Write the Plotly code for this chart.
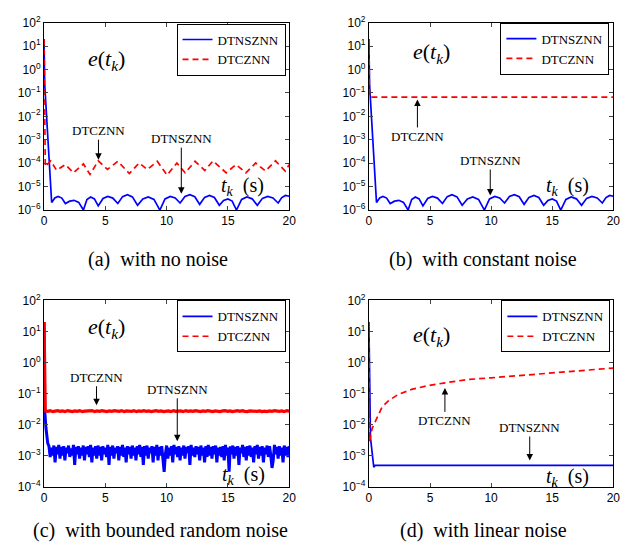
import numpy as np
import plotly.graph_objects as go

# ---------------- data ----------------
# (a) & (b): DTNSZNN residual (same in both panels)
blue_ab_t = [0, 0.05, 0.62, 0.88, 1.15, 1.45, 1.74, 2.1, 2.45, 2.83, 3.21, 3.5, 3.8, 4.11,
             4.42, 4.81, 5.2, 5.61, 6.02, 6.41, 6.8, 7.21, 7.63, 8.06, 8.5, 8.97, 9.45,
             9.87, 10.3, 10.7, 11.1, 11.5, 11.9, 12.3, 12.7, 13.1, 13.5, 13.9, 14.3,
             14.65, 15.0, 15.35, 15.7, 16.12, 16.55, 16.98, 17.4, 17.82, 18.25, 18.68,
             19.1, 19.4, 19.7, 20.0]
blue_ab_micro = [2e7, 2.5e5, 2.1, 3.3, 3.8, 3.24, 1.9, 2.4, 2.6, 2.13, 1.0, 2.84, 3.6, 2.98,
                 1.5, 3.13, 3.8, 3.24, 1.9, 3.74, 4.5, 3.65, 1.6, 3.0, 3.6, 2.84, 1.0,
                 2.98, 3.8, 3.27, 2.0, 3.77, 4.5, 3.69, 1.75, 3.48, 4.2, 3.44, 1.6,
                 2.59, 3.0, 2.41, 1.0, 2.84, 3.6, 3.01, 1.6, 3.16, 3.8, 3.27,
                 2.0, 3.4, 4.2, 3.9]

# (a): DTCZNN residual, no noise
red_a_t = [0, 0.1, 0.54, 1.02, 1.74, 2.41, 3.21, 3.75, 4.42, 5.17, 6.02, 6.96, 7.76, 8.43,
           9.24, 10.04, 10.84, 11.51, 12.32, 13.12, 13.79, 14.86, 15.66, 16.47, 17.27,
           18.07, 18.88, 19.68, 20]
red_a_e = [20, 7.1e-5, 1.26e-4, 5.0e-5, 8.7e-5, 3.9e-5, 9.3e-5, 3.3e-5, 1.26e-4, 5.4e-5,
           1.2e-4, 3.6e-5, 1.02e-4, 5.4e-5, 1.2e-4, 3.1e-5, 1.02e-4, 3.9e-5, 1.2e-4,
           4.9e-5, 1.26e-4, 3.9e-5, 8.7e-5, 3.9e-5, 1.02e-4, 4.6e-5, 1.26e-4, 4.6e-5, 8.7e-5]

# (b): DTCZNN residual, constant noise
red_b_t = [0, 0.05, 20]
red_b_e = [20, 0.066, 0.066]

# (c): bounded random noise
blue_c_head_t = [0, 0.05, 0.15, 0.3]
blue_c_head_e = [20, 0.03, 8e-3, 2.5e-3]
blue_c_band_milli = [
    2.0, 0.9, 1.8, 1.0, 2.1, 0.6, 1.9, 1.1, 2.2, 0.8,
    1.9, 1.0, 2.0, 0.7, 1.8, 1.2, 2.1, 0.9, 1.7, 1.0,
    2.2, 0.5, 1.9, 1.1, 2.0, 0.8, 1.8, 1.0, 2.1, 0.7,
    1.9, 1.1, 2.0, 0.9, 2.2, 0.6, 1.8, 1.0, 2.0, 0.8,
    2.1, 1.0, 1.9, 0.7, 2.0, 1.1, 1.8, 0.9, 2.2, 0.5,
    1.9, 1.0, 2.1, 0.8, 1.8, 1.2, 2.0, 0.7, 1.9, 1.0,
    2.2, 0.9, 1.8, 0.6, 2.0, 1.1, 1.9, 0.8, 2.1, 1.0,
    1.8, 0.7, 2.0, 1.1, 2.2, 0.9, 1.9, 0.5, 2.0, 1.0,
    2.1, 0.8, 1.8, 1.2, 2.0, 0.6, 1.9, 1.0, 2.2, 0.7,
    1.9, 1.0, 2.0, 0.9, 0.3, 1.1, 2.1, 0.8, 1.8, 1.0,
    2.0, 0.6, 2.2, 1.1, 1.9, 0.9, 2.0, 0.7, 1.8, 1.0,
    2.1, 0.8, 1.9, 1.2, 2.0, 0.5, 2.2, 1.0, 1.8, 0.9,
    2.0, 1.1, 1.9, 0.7, 2.1, 1.0, 1.8, 0.6, 2.0, 0.9,
    2.2, 1.0, 1.9, 0.8, 2.0, 1.1, 2.1, 0.6, 1.8, 1.0,
    1.9, 0.9, 2.0, 0.7, 2.2, 1.0, 1.8, 0.3, 2.0, 1.1,
    2.1, 0.8, 1.9, 1.0, 2.0, 0.5, 1.8, 1.2, 2.2, 0.9,
    1.9, 0.7, 2.0, 1.0, 2.1, 0.9, 1.8, 0.6, 2.0, 1.1,
    2.2, 0.8, 1.9, 1.0, 2.0, 0.6, 1.8, 1.1, 2.1, 0.9,
    2.0, 1.0, 0.4, 0.7, 2.2, 1.1, 1.9, 0.8, 2.0, 1.0,
    1.8, 0.6, 2.1, 1.0, 1.9, 0.9, 2.0]
red_c_head_t = [0, 0.05]
red_c_head_e = [20, 0.03]
red_c_band_centi = [
    2.75, 2.65, 2.8, 2.6, 2.7, 2.8, 2.65, 2.75, 2.6, 2.8,
    2.7, 2.6, 2.75, 2.65, 2.8, 2.6, 2.7, 2.75, 2.65, 2.8,
    2.6, 2.75, 2.65, 2.8, 2.7, 2.6, 2.75, 2.65, 2.8, 2.7,
    2.65, 2.8, 2.6, 2.75, 2.7, 2.65, 2.8, 2.6, 2.75, 2.65,
    2.8, 2.65, 2.75, 2.6, 2.7, 2.8, 2.65, 2.75, 2.6, 2.7,
    2.75, 2.6, 2.8, 2.65, 2.7, 2.75, 2.6, 2.8, 2.65, 2.75,
    2.65, 2.8, 2.7, 2.6, 2.75, 2.65, 2.8, 2.7, 2.6, 2.75,
    2.7, 2.6, 2.75, 2.8, 2.65, 2.75, 2.6, 2.7, 2.8, 2.65,
    2.8, 2.65, 2.6, 2.75, 2.7, 2.8, 2.65, 2.75, 2.6, 2.7,
    2.6, 2.75, 2.65, 2.8, 2.7, 2.65, 2.75, 2.6, 2.8, 2.7]

# (d): linear noise
blue_d_t = [0, 0.13, 0.4, 0.5, 20]
blue_d_e = [20, 3.7e-3, 4.2e-4, 4.8e-4, 4.8e-4]
red_d_t = [0, 0.05, 0.27, 0.67, 1.07, 1.61, 2.42, 3.49, 4.83, 6.23, 8.0, 10.0, 12.0,
           14.0, 16.0, 18.0, 20.0]
red_d_e = [20, 2.8e-3, 7.6e-3, 0.017, 0.036, 0.059, 0.094, 0.135, 0.18, 0.22, 0.28,
           0.32, 0.37, 0.43, 0.5, 0.58, 0.66]

captions = ["(a)  with no noise", "(b)  with constant noise",
            "(c)  with bounded random noise", "(d)  with linear noise"]
series_names = ["DTNSZNN", "DTCZNN"]
x_ticks = [0, 5, 10, 15, 20]
y_exp_top = list(range(-6, 3))
y_exp_bottom = list(range(-4, 3))

# ---------------- assemble ----------------
blue_ab_e = [v * 1e-6 for v in blue_ab_micro]
blue_c_t = blue_c_head_t + list(np.linspace(0.4, 20, len(blue_c_band_milli)))
blue_c_e = blue_c_head_e + [v * 1e-3 for v in blue_c_band_milli]
red_c_t = red_c_head_t + list(np.linspace(0.1, 20, len(red_c_band_centi)))
red_c_e = red_c_head_e + [v * 1e-2 for v in red_c_band_centi]

BLUE = "#0000FF"
RED = "#FF0000"
SERIF = "'Liberation Serif', 'Times New Roman', Times, serif"
SANS = "'Liberation Sans', Arial, Helvetica, sans-serif"
DASH = "6px,4px"
LW = 1.7

# (blue t, blue e, blue width, red t, red e, red width, noisy band?)
panels = [
    (blue_ab_t, blue_ab_e, LW, red_a_t, red_a_e, LW, False),
    (blue_ab_t, blue_ab_e, LW, red_b_t, red_b_e, LW, False),
    (blue_c_t, blue_c_e, 3.0, red_c_t, red_c_e, 3.2, True),
    (blue_d_t, blue_d_e, LW, red_d_t, red_d_e, LW, False),
]

W, H = 641, 557
xdom = [[41.7 / W, 290.7 / W], [371.7 / W, 620 / W]]
ydom_top = [1 - 207 / H, 1 - 14 / H]
ydom_bot = [1 - 491.7 / H, 1 - 300 / H]

fig = go.Figure()
legend_names = ["legend", "legend2", "legend3", "legend4"]
for i, (bt, be, bw, rt, re, rw, band) in enumerate(panels):
    ax = "" if i == 0 else str(i + 1)
    xa, ya = "x" + ax, "y" + ax
    if not band:
        fig.add_trace(go.Scatter(x=bt, y=be, mode="lines", name=series_names[0],
                                 line=dict(color=BLUE, width=bw),
                                 xaxis=xa, yaxis=ya, legend=legend_names[i]))
        fig.add_trace(go.Scatter(x=rt, y=re, mode="lines", name=series_names[1],
                                 line=dict(color=RED, width=rw, dash=DASH),
                                 xaxis=xa, yaxis=ya, legend=legend_names[i]))
    else:
        # dense noisy curves render as solid bands; legend keeps normal samples
        fig.add_trace(go.Scatter(x=bt, y=be, mode="lines", name=series_names[0],
                                 line=dict(color=BLUE, width=bw), showlegend=False,
                                 xaxis=xa, yaxis=ya))
        fig.add_trace(go.Scatter(x=rt, y=re, mode="lines", name=series_names[1],
                                 line=dict(color=RED, width=rw), showlegend=False,
                                 xaxis=xa, yaxis=ya))
        fig.add_trace(go.Scatter(x=[None], y=[None], mode="lines", name=series_names[0],
                                 line=dict(color=BLUE, width=LW),
                                 xaxis=xa, yaxis=ya, legend=legend_names[i]))
        fig.add_trace(go.Scatter(x=[None], y=[None], mode="lines", name=series_names[1],
                                 line=dict(color=RED, width=LW, dash=DASH),
                                 xaxis=xa, yaxis=ya, legend=legend_names[i]))

layout = dict(width=W, height=H, margin=dict(l=0, r=0, t=0, b=0),
              paper_bgcolor="white", plot_bgcolor="white", showlegend=True)

for i in range(4):
    ax = "" if i == 0 else str(i + 1)
    exps = y_exp_top if i < 2 else y_exp_bottom
    yd = ydom_top if i < 2 else ydom_bot
    layout["xaxis" + ax] = dict(domain=xdom[i % 2], range=[0, 20], anchor="y" + ax,
                                tickvals=x_ticks, ticks="inside", ticklen=4,
                                showline=True, linecolor="black", linewidth=1,
                                mirror="ticks", showgrid=False, zeroline=False,
                                tickfont=dict(family=SANS, size=12, color="black"))
    layout["yaxis" + ax] = dict(domain=yd, type="log", range=[exps[0], exps[-1]],
                                anchor="x" + ax,
                                tickvals=[10.0 ** e for e in exps],
                                ticktext=["10<sup>%s</sup>" % (str(e).replace("-", "\u2212")) for e in exps],
                                ticks="inside", ticklen=4,
                                showline=True, linecolor="black", linewidth=1,
                                mirror="ticks", showgrid=False, zeroline=False,
                                tickfont=dict(family=SANS, size=12, color="black"))

leg_pos = [(287 / W, 1 - 15 / H), (616 / W, 1 - 14 / H),
           (287 / W, 1 - 300 / H), (617 / W, 1 - 300 / H)]
for i, name in enumerate(legend_names):
    lx, ly = leg_pos[i]
    layout[name] = dict(x=lx, y=ly, xanchor="right", yanchor="top",
                        bgcolor="white", bordercolor="black", borderwidth=1,
                        font=dict(family=SERIF, size=13, color="black"),
                        tracegroupgap=0, itemwidth=30)

fig.update_layout(**layout)

ann = []
et_pos = [(105, 53), (435, 45), (105, 328), (435, 337)]
tk_pos = [(243, 183), (573, 183), (244, 480), (573, 482)]
for (px, py) in et_pos:
    ann.append(dict(xref="paper", yref="paper", x=px / W, y=1 - py / H, showarrow=False,
                    text="<i>e</i>(<i>t<sub>k</sub></i>)", xanchor="center", yanchor="middle",
                    font=dict(family=SERIF, size=22, color="black")))
for (px, py) in tk_pos:
    ann.append(dict(xref="paper", yref="paper", x=px / W, y=1 - py / H, showarrow=False,
                    text="<i>t<sub>k</sub></i>  (s)", xanchor="center", yanchor="middle",
                    font=dict(family=SERIF, size=20, color="black")))
cap_pos = [(157, 258), (488, 258), (160, 537), (488, 537)]
for cap, (px, py) in zip(captions, cap_pos):
    ann.append(dict(xref="paper", yref="paper", x=px / W, y=1 - py / H, showarrow=False,
                    text=cap, xanchor="center", yanchor="middle",
                    font=dict(family=SERIF, size=20, color="black")))
arrows = [
    (0, "DTCZNN", 4.44, -3.85, -29),
    (0, "DTNSZNN", 11.2, -5.30, -55),
    (1, "DTCZNN", 3.97, -1.28, 37),
    (1, "DTNSZNN", 9.93, -5.38, -35),
    (2, "DTCZNN", 4.28, -1.38, -28),
    (2, "DTNSZNN", 10.87, -2.54, -52),
    (3, "DTCZNN", 6.22, -0.82, 33),
    (3, "DTNSZNN", 13.16, -3.16, -33),
]
for (p, txt, hx, hy, ay) in arrows:
    ax = "" if p == 0 else str(p + 1)
    ann.append(dict(xref="x" + ax, yref="y" + ax, x=hx, y=hy, text=txt,
                    showarrow=True, arrowhead=2, arrowsize=1.3, arrowwidth=1,
                    arrowcolor="black", ax=0, ay=ay,
                    font=dict(family=SERIF, size=13, color="black")))
fig.update_layout(annotations=ann)

fig.write_html("out.html", config={"displayModeBar": False},
               post_script="document.body.style.margin='0';document.body.style.padding='0';")
